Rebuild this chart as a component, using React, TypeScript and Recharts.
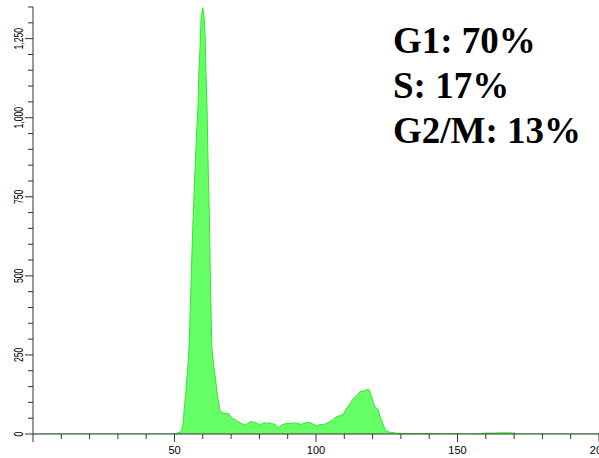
import React from "react";
import { AreaChart, Area, XAxis, YAxis } from "recharts";

// DNA content channel (x) and cell counts (y)
const channels: number[] = [
  0, 48, 50.5, 51, 51.5, 52, 52.5, 53, 53.4, 54, 54.4, 55, 55.2, 55.6, 56, 56.5, 57.1, 57.7, 58.3, 58.6,
  59.1, 59.4, 60.0, 60.5, 60.9, 61.1, 61.5, 61.7, 62.0, 62.3, 62.6, 62.9, 63.2, 63.8, 64.4, 65.2, 66.1,
  67.3, 68.2, 69.0, 70.3, 71.5, 72.5, 73.8, 75.0, 76.0, 76.7, 77.6, 78.5, 79.4, 80.3, 81.4, 82.4, 83.4,
  84.4, 85.5, 86.7, 87.6, 88.5, 89.6, 90.9, 92.0, 93.7, 94.6, 95.5, 96.5, 97.9, 99.0, 100.3, 101.4,
  102.5, 103.8, 104.6, 105.4, 106.2, 107.3, 108.3, 109.6, 110.9, 112.0, 113.0, 113.8, 114.7, 115.6,
  116.5, 117.2, 117.9, 118.5, 119.0, 119.7, 120.4, 120.9, 121.4, 122.0, 122.6, 123.2, 123.8, 124.4,
  125.0, 125.8, 126.8, 128, 130, 132, 134, 136, 138, 140, 142, 144, 146, 148, 150, 152, 155, 158, 160,
  163, 166, 168, 170, 171, 175, 200,
];
const counts: number[] = [
  0, 0, 1, 3, 5, 6, 10, 30, 76, 130, 180, 250, 288, 400, 528, 661, 804, 930, 1035, 1146,
  1237, 1316, 1348, 1316, 1237, 1146, 1035, 930, 800, 700, 528, 400, 275, 220, 180, 120, 72,
  66, 64, 66, 50, 45, 39, 33, 28, 34, 39, 38, 36, 33, 28, 36, 34, 35,
  33, 30, 20, 27, 31, 33, 34, 35, 34, 30, 33, 36, 36, 31, 25, 30,
  29, 34, 37, 42, 47, 55, 58, 62, 82, 95, 110, 115, 125, 134,
  136, 137, 139, 142, 136, 115, 95, 85, 82, 76, 55, 42, 28, 14,
  9, 6, 5, 3, 2, 2, 1, 2, 1, 2, 1, 1, 0, 1, 1, 0, 0, 1, 3,
  3, 4, 4, 3, 0, 0, 0,
];
const xTicks: number[] = [0, 10, 20, 30, 40, 50, 60, 70, 80, 90, 100, 110, 120, 130, 140, 150, 160, 170, 180, 190, 200];
const yTicks: number[] = [0, 50, 100, 150, 200, 250, 300, 350, 400, 450, 500, 550, 600, 650, 700, 750, 800, 850, 900, 950, 1000, 1050, 1100, 1150, 1200, 1250, 1300, 1350];
const phaseLabels: string[] = ["G1: 70%", "S: 17%", "G2/M: 13%"];

const data = channels.map((x, i) => ({ x, y: counts[i] }));

const AXIS = "#333";

const XTick = (props: any) => {
  const { x, y, payload } = props;
  const v = payload.value as number;
  const major = v % 50 === 0;
  return (
    <g>
      <line x1={x} x2={x} y1={y} y2={y + (major ? 8 : 5)} stroke={AXIS} strokeWidth={1} />
      {major && v !== 0 && (
        <text x={x} y={y + 20} textAnchor="middle" fontSize={11} fontFamily="Liberation Sans, Arial, sans-serif" fill="#000">
          {v}
        </text>
      )}
    </g>
  );
};

const YTick = (props: any) => {
  const { x, y, payload } = props;
  const v = payload.value as number;
  const major = v % 250 === 0;
  return (
    <g>
      <line x1={x - (major ? 8 : 5)} x2={x} y1={y} y2={y} stroke={AXIS} strokeWidth={1} />
      {major && (
        <text
          transform={`translate(${x - 10},${y}) rotate(-90) scale(0.72,1)`}
          textAnchor="middle"
          fontSize={12}
          fontFamily="Liberation Sans, Arial, sans-serif"
          fill="#000"
        >
          {v.toLocaleString("en-US")}
        </text>
      )}
    </g>
  );
};

export default function App() {
  return (
    <div style={{ position: "absolute", left: 0, top: 0, width: 599, height: 458, background: "#fff" }}>
      <AreaChart width={599} height={458} data={data} margin={{ top: 7, right: 0, bottom: 0, left: 0 }}>
        <XAxis
          dataKey="x"
          type="number"
          domain={[0, 200]}
          ticks={xTicks}
          interval={0}
          height={24}
          tickSize={0}
          tickMargin={0}
          tickLine={false}
          axisLine={{ stroke: AXIS }}
          tick={<XTick />}
          allowDataOverflow
        />
        <YAxis
          type="number"
          domain={[0, 1350]}
          ticks={yTicks}
          interval={0}
          width={33}
          tickSize={0}
          tickMargin={0}
          tickLine={false}
          axisLine={{ stroke: AXIS }}
          tick={<YTick />}
          allowDataOverflow
        />
        <Area
          type="linear"
          dataKey="y"
          stroke="#2fe82f"
          strokeWidth={1}
          fill="#66ff66"
          fillOpacity={1}
          dot={false}
          activeDot={false}
          isAnimationActive={false}
        />
      </AreaChart>
      <svg width={599} height={458} style={{ position: "absolute", left: 0, top: 0, pointerEvents: "none" }}>
        {phaseLabels.map((t, i) => (
          <text
            key={t}
            x={393}
            y={53 + i * 45}
            fontSize={37}
            fontWeight="bold"
            fontFamily="Liberation Serif, Times New Roman, serif"
            fill="#000"
          >
            {t}
          </text>
        ))}
      </svg>
    </div>
  );
}
